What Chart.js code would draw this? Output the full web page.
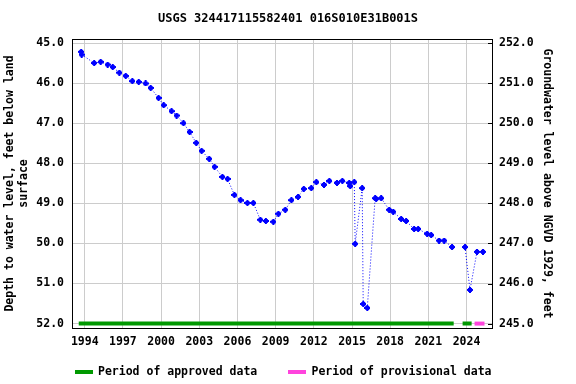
<!DOCTYPE html>
<html>
<head>
<meta charset="utf-8">
<script src="https://cdn.jsdelivr.net/npm/chart.js@4"></script>
<style>
html,body{margin:0;padding:0;background:#fff;}
#wrap{width:576px;height:384px;position:relative;}
</style>
</head>
<body>
<div id="wrap"><canvas id="c" width="576" height="384"></canvas></div>
<script>
// ---- data ----
const years = [1993.72,1993.76,1994.74,1995.25,1995.80,1996.20,1996.72,1997.22,1997.74,1998.24,
  1998.78,1999.18,1999.80,2000.20,2000.82,2001.22,2001.76,2002.24,2002.76,2003.18,
  2003.78,2004.20,2004.82,2005.22,2005.76,2006.24,2006.78,2007.25,2007.80,2008.23,
  2008.82,2009.22,2009.76,2010.24,2010.76,2011.21,2011.80,2012.20,2012.80,2013.22,
  2013.82,2014.24,2014.78,2014.86,2015.18,2015.25,2015.80,2015.88,2016.20,2016.82,
  2016.90,2017.29,2017.92,2018.24,2018.86,2019.25,2019.88,2020.20,2020.90,2021.22,
  2021.84,2022.24,2022.86,2023.40,2023.88,2024.27,2024.82,2025.29];
const depths = [45.22,45.29,45.50,45.47,45.54,45.60,45.74,45.82,45.95,45.97,
  46.01,46.12,46.37,46.55,46.70,46.81,47.00,47.22,47.49,47.69,
  47.89,48.09,48.34,48.39,48.79,48.92,48.99,48.99,49.41,49.44,
  49.46,49.26,49.16,48.92,48.84,48.64,48.62,48.47,48.54,48.44,
  48.49,48.44,48.49,48.57,48.47,50.01,48.62,51.51,51.61,48.87,
  48.89,48.87,49.16,49.21,49.39,49.44,49.64,49.64,49.76,49.79,
  49.93,49.93,50.09,null,50.09,51.16,50.21,50.21];
const approvedPeriods = [[1993.53, 2022.99], [2023.69, 2024.40]];
const provisionalPeriods = [[2024.63, 2025.41]];
const xTickYears = [1994,1997,2000,2003,2006,2009,2012,2015,2018,2021,2024];
const depthTicks = [45,46,47,48,49,50,51,52];
const elevTicks = [245,246,247,248,249,250,251,252];
const datumOffset = 297; // elevation = 297 - depth
const titleText = 'USGS 324417115582401 016S010E31B001S';
const leftTitle = ['Depth to water level, feet below land', 'surface'];
const rightTitle = 'Groundwater level above NGVD 1929, feet';
const legendLabels = ['Period of approved data', 'Period of provisional data'];

// ---- build library structures ----
const FONT = '"DejaVu Sans Mono", "Liberation Mono", monospace';
const levelData = years.map((x, i) => ({x: x, y: depths[i]}));
function periodData(periods, level) {
  const out = [];
  periods.forEach((p, i) => {
    if (i > 0) out.push({x: (periods[i-1][1] + p[0]) / 2, y: null});
    out.push({x: p[0], y: level});
    out.push({x: p[1], y: level});
  });
  return out;
}

const marker = document.createElement('canvas');
marker.width = 6; marker.height = 6;
(function(){
  const m = marker.getContext('2d');
  m.fillStyle = '#0000ff';
  m.fillRect(2, 0, 2, 6);
  m.fillRect(0, 2, 6, 2);
  m.fillRect(1, 1, 4, 4);
})();

const GREEN = '#009900';
const PINK = '#ff44dd';

const framePlugin = {
  id: 'frame',
  afterDraw(chart) {
    const {ctx, chartArea: a} = chart;
    ctx.save();
    const y2 = chart.scales.y2;
    ctx.strokeStyle = '#000';
    ctx.lineWidth = 1;
    elevTicks.forEach(v => {
      const py = Math.round(y2.getPixelForValue(v)) + 0.5;
      ctx.beginPath();
      ctx.moveTo(a.right - 4, py);
      ctx.lineTo(a.right, py);
      ctx.stroke();
    });
    ctx.strokeRect(Math.round(a.left) + 0.5, Math.round(a.top) + 0.5,
      Math.round(a.right - a.left), Math.round(a.bottom - a.top));
    ctx.font = 'bold 11.5px ' + FONT;
    ctx.textBaseline = 'middle';
    ctx.textAlign = 'left';
    ctx.fillStyle = GREEN;
    ctx.fillRect(75, 370, 18, 4);
    ctx.fillStyle = '#000';
    ctx.fillText(legendLabels[0], 98, 372);
    ctx.fillStyle = PINK;
    ctx.fillRect(288, 370, 18, 4);
    ctx.fillStyle = '#000';
    ctx.fillText(legendLabels[1], 311.5, 372);
    ctx.restore();
  }
};

new Chart(document.getElementById('c'), {
  type: 'line',
  data: {
    datasets: [
      {
        label: 'approved', data: periodData(approvedPeriods, 52), yAxisID: 'y',
        borderColor: GREEN, borderWidth: 4, pointRadius: 0, spanGaps: false,
        borderCapStyle: 'butt', order: 2
      },
      {
        label: 'provisional', data: periodData(provisionalPeriods, 52), yAxisID: 'y',
        borderColor: PINK, borderWidth: 4, pointRadius: 0, spanGaps: false,
        borderCapStyle: 'butt', order: 2
      },
      {
        label: 'level', data: levelData, yAxisID: 'y',
        borderColor: '#0000ff', borderWidth: 1, borderDash: [1, 2],
        pointStyle: marker, pointRadius: 3, spanGaps: false, order: 1
      }
    ]
  },
  options: {
    responsive: false,
    animation: false,
    devicePixelRatio: 1,
    layout: {padding: 0},
    plugins: {
      legend: {display: false},
      tooltip: {enabled: false},
      title: {
        display: true, text: titleText, color: '#000',
        font: {family: FONT, size: 12, weight: 'bold', lineHeight: 1.2},
        padding: {top: 12, bottom: 12.6}
      }
    },
    scales: {
      x: {
        type: 'linear', min: 1993.0, max: 2026.0,
        afterBuildTicks: s => { s.ticks = xTickYears.map(v => ({value: v})); },
        afterFit: s => { s.height = 56; },
        grid: {color: '#cccccc', drawTicks: false, lineWidth: 1},
        border: {display: false},
        ticks: {
          color: '#000', padding: 7, maxRotation: 0, autoSkip: false,
          font: {family: FONT, size: 11.5, weight: 'bold'},
          callback: v => String(v)
        }
      },
      y: {
        type: 'linear', position: 'left', reverse: true, min: 44.9, max: 52.11,
        afterBuildTicks: s => { s.ticks = depthTicks.map(v => ({value: v})); },
        afterFit: s => { s.width = 72; },
        grid: {color: '#cccccc', drawTicks: false, lineWidth: 1},
        border: {display: false},
        ticks: {
          color: '#000', padding: 8,
          font: {family: FONT, size: 11.5, weight: 'bold'},
          callback: v => Number(v).toFixed(1)
        },
        title: {
          display: true, text: leftTitle, color: '#000',
          font: {family: FONT, size: 11.5, weight: 'bold', lineHeight: 14 / 11.5},
          padding: {top: 3.5, bottom: 0}
        }
      },
      y2: {
        type: 'linear', position: 'right',
        min: datumOffset - 52.11, max: datumOffset - 44.9,
        afterBuildTicks: s => { s.ticks = elevTicks.map(v => ({value: v})); },
        afterFit: s => { s.width = 84; },
        grid: {drawOnChartArea: false, drawTicks: false},
        border: {display: false},
        ticks: {
          color: '#000', padding: 7,
          font: {family: FONT, size: 11.5, weight: 'bold'},
          callback: v => Number(v).toFixed(1)
        },
        title: {
          display: true, text: rightTitle, color: '#000',
          font: {family: FONT, size: 11.5, weight: 'bold', lineHeight: 14 / 11.5},
          padding: {top: 22, bottom: 0}
        }
      }
    }
  },
  plugins: [framePlugin]
});
</script>
</body>
</html>
